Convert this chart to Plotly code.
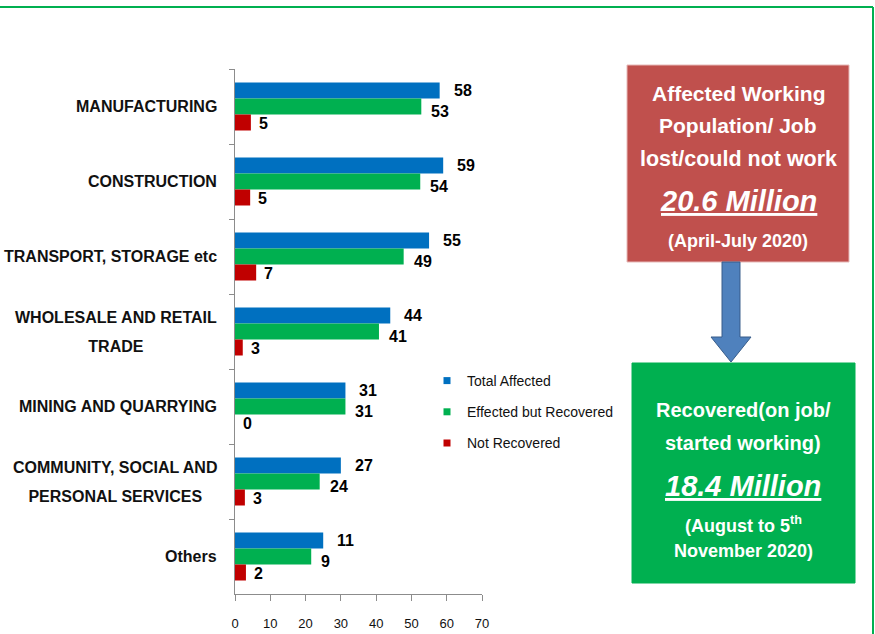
import plotly.graph_objects as go

# ---------------- data ----------------
categories = [
    "MANUFACTURING",
    "CONSTRUCTION",
    "TRANSPORT, STORAGE etc",
    "WHOLESALE AND RETAIL<br>TRADE",
    "MINING AND QUARRYING",
    "COMMUNITY, SOCIAL AND<br>PERSONAL SERVICES",
    "Others",
]
series_names = ["Total Affected", "Effected but Recovered", "Not Recovered"]

# bar lengths as drawn in the picture
total_affected = [58, 59, 55, 44, 31.3, 30, 25]
effected_recovered = [52.8, 52.5, 47.8, 40.8, 31.3, 24, 21.6]
not_recovered = [4.5, 4.3, 6, 2.2, 0, 2.8, 3.1]

# data labels as printed in the picture
total_labels = ["58", "59", "55", "44", "31", "27", "11"]
recovered_labels = ["53", "54", "49", "41", "31", "24", "9"]
not_recovered_labels = ["5", "5", "7", "3", "0", "3", "2"]

x_ticks = [0, 10, 20, 30, 40, 50, 60, 70]

colors = ["#0070C0", "#00B050", "#C00000"]

# ---------------- layout helpers ----------------
W, H = 875, 634
L, R, T, B = 235, 393, 69, 40
PW, PH = W - L - R, H - T - B


def X(px):
    return (px - L) / PW


def Y(py):
    return (H - B - py) / PH


FONT = "Liberation Sans, Arial, sans-serif"

fig = go.Figure()

series_vals = [total_affected, effected_recovered, not_recovered]
series_labs = [total_labels, recovered_labels, not_recovered_labels]

for name, vals, col in zip(series_names, series_vals, colors):
    fig.add_trace(
        go.Bar(
            y=categories,
            x=vals,
            orientation="h",
            name=name,
            marker=dict(color=col, line=dict(width=0)),
            showlegend=False,
            hoverinfo="x+y+name",
        )
    )

# legend-only entries with small square swatches
for i, (name, col) in enumerate(zip(series_names, colors)):
    fig.add_trace(
        go.Scatter(
            x=[None],
            y=[None],
            mode="markers",
            name=name,
            marker=dict(symbol="square", size=7, color=col),
            legendgroup=f"g{i}",
            showlegend=True,
        )
    )

# value labels, anchored at each bar end (data coordinates)
label_style = [  # (xshift, yshift) per series: offset within group + label gap
    (12, 16),
    (8, -5),
    (6, -17),
]
for vals, labs, (dx, dy) in zip(series_vals, series_labs, label_style):
    for cat, v, lab in zip(categories, vals, labs):
        fig.add_annotation(
            x=v, y=cat, xref="x", yref="y", text=lab, showarrow=False,
            xanchor="left", yanchor="middle", xshift=dx, yshift=dy,
            font=dict(family=FONT, size=16, color="#000000", weight="bold"),
        )

# category labels (centered multi-line, right aligned block)
for cat in categories:
    if "<br>" in cat:
        txt = "<br>".join(f"<span style='font-size:16px'>{part}</span>" for part in cat.split("<br>"))
        size = 22
    else:
        txt = cat
        size = 16
    fig.add_annotation(
        x=X(219),
        xref="paper",
        y=cat,
        yref="y",
        text=txt,
        showarrow=False,
        xanchor="right",
        yanchor="middle",
        align="center",
        font=dict(family=FONT, size=size, color="#111111", weight="bold"),
    )

shapes = []
# outer green frame (top and right)
shapes.append(dict(type="line", xref="paper", yref="paper", x0=X(0), x1=X(873), y0=Y(7), y1=Y(7),
                   line=dict(color="#00B050", width=2)))
shapes.append(dict(type="line", xref="paper", yref="paper", x0=X(873), x1=X(873), y0=Y(7), y1=Y(634),
                   line=dict(color="#00B050", width=2)))
# red box
shapes.append(dict(type="rect", xref="paper", yref="paper", x0=X(627), x1=X(849), y0=Y(65), y1=Y(262),
                   fillcolor="#C0504D", line=dict(color="#E6B9B8", width=1), layer="below"))
# green box
shapes.append(dict(type="rect", xref="paper", yref="paper", x0=X(632), x1=X(855), y0=Y(363), y1=Y(583),
                   fillcolor="#00B050", line=dict(color="#00B050", width=1), layer="below"))
# arrow
pts = [(722, 262), (740, 262), (740, 337), (751, 337), (731, 362), (711, 337), (722, 337)]
path = "M " + " L ".join(f"{X(a):.5f},{Y(b):.5f}" for a, b in pts) + " Z"
shapes.append(dict(type="path", xref="paper", yref="paper", path=path,
                   fillcolor="#4F81BD", line=dict(color="#385D8A", width=1)))

box_lines = [
    (738, 93, "Affected Working", 21),
    (738, 126, "Population/ Job", 21),
    (738, 159, "lost/could not work", 21.5),
    (738, 201, "<i><u>20.6 Million</u></i>", 29),
    (738, 241, "(April-July 2020)", 18),
    (743, 410, "Recovered(on job/", 20),
    (743, 443, "started working)", 20),
    (743, 486, "<i><u>18.4 Million</u></i>", 29),
    (743, 524, "(August to 5<sup>th</sup>", 18),
    (743, 551, "November 2020)", 18),
]
for cx, cy, txt, sz in box_lines:
    fig.add_annotation(
        x=X(cx), y=Y(cy), xref="paper", yref="paper", text=txt, showarrow=False,
        xanchor="center", yanchor="middle",
        font=dict(family=FONT, size=sz, color="#FFFFFF", weight="bold"),
    )

fig.update_layout(
    width=W,
    height=H,
    margin=dict(l=L, r=R, t=T, b=B, pad=0, autoexpand=False),
    paper_bgcolor="#FFFFFF",
    plot_bgcolor="#FFFFFF",
    barmode="group",
    bargap=0.36,
    bargroupgap=0,
    shapes=shapes,
    showlegend=True,
    legend=dict(
        x=X(427), y=Y(365), xref="paper", yref="paper", xanchor="left", yanchor="top",
        font=dict(family=FONT, size=14, color="#111111"),
        tracegroupgap=10,
        bgcolor="rgba(0,0,0,0)",
        itemclick=False,
        itemwidth=30,
    ),
    xaxis=dict(
        range=[0, 70],
        tickvals=x_ticks,
        ticktext=[str(v) for v in x_ticks],
        showgrid=False,
        zeroline=False,
        showline=True,
        linecolor="#8C8C8C",
        linewidth=1,
        ticks="outside",
        ticklen=6,
        tickcolor="#8C8C8C",
        ticklabelstandoff=11,
        automargin=False,
        tickfont=dict(family=FONT, size=13, color="#111111"),
    ),
    yaxis=dict(
        type="category",
        categoryorder="array",
        categoryarray=categories,
        autorange="reversed",
        showgrid=False,
        zeroline=False,
        showline=True,
        linecolor="#8C8C8C",
        linewidth=1,
        ticks="outside",
        tickson="boundaries",
        ticklen=5,
        tickcolor="#8C8C8C",
        showticklabels=False,
        automargin=False,
    ),
)

fig.write_html(
    "out.html",
    config={"displayModeBar": False},
    post_script="document.body.style.margin='0';",
)
